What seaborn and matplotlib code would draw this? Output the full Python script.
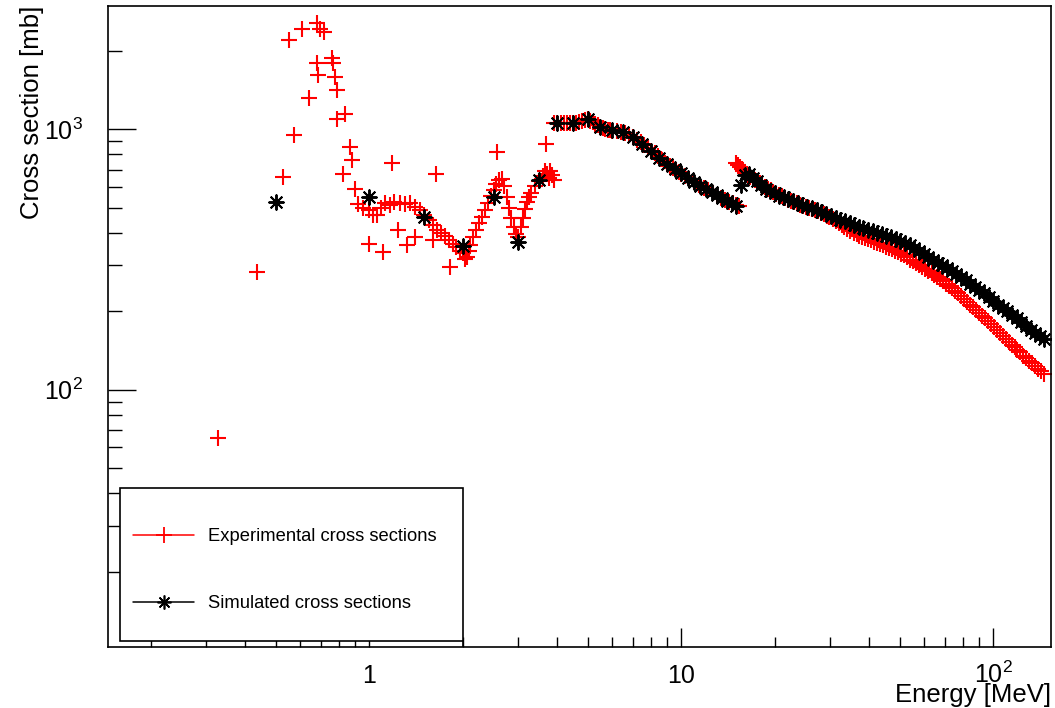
import numpy as np
import pandas as pd
import matplotlib
matplotlib.use('Agg')
import matplotlib.pyplot as plt
from matplotlib.lines import Line2D
from matplotlib.patches import Rectangle
from matplotlib.ticker import FixedLocator, FixedFormatter, LogLocator, NullFormatter
import seaborn as sns

# --- experimental cross sections (red crosses) ---
# scattered low energy points
exp_e_low = [0.327, 0.435, 0.530, 0.552, 0.574, 0.609, 0.641, 0.677, 0.677, 0.686,
             0.694, 0.715, 0.760, 0.762, 0.775, 0.785, 0.789, 0.824, 0.835, 0.866,
             0.877, 0.898, 0.921, 0.95, 1.0, 1.0, 1.03, 1.06, 1.09, 1.107,
             1.12, 1.16, 1.183, 1.2, 1.231, 1.25, 1.3, 1.316, 1.35, 1.399,
             1.4, 1.45, 1.6, 1.634, 1.81, 2.05, 2.56, 3.68]
exp_xs_low = [65, 282, 655, 2200, 949, 2416, 1324, 2550, 1790, 1613,
              2420, 2357, 1870, 1800, 1589, 1413, 1099, 676, 1149, 855,
              765, 592, 518, 500, 490, 363, 470, 470, 500, 337,
              520, 510, 745, 525, 409, 520, 515, 358, 520, 386,
              505, 490, 374, 676, 295, 323, 818, 881]

# resonance trace 1.5 - 3.9 MeV
exp_e_res = [1.5, 1.55, 1.6, 1.65, 1.7, 1.75, 1.8, 1.85, 1.9, 1.95,
             2.0, 2.02, 2.08, 2.1, 2.15, 2.2, 2.25, 2.3, 2.35, 2.4,
             2.45, 2.5, 2.55, 2.6, 2.65, 2.7, 2.75, 2.8, 2.85, 2.9,
             2.95, 3.0, 3.05, 3.1, 3.15, 3.2, 3.25, 3.3, 3.4, 3.5,
             3.6, 3.65, 3.7, 3.75, 3.8, 3.85, 3.9]
exp_xs_res = [470, 450, 430, 412, 398, 388, 375, 362, 352, 342,
              335, 318, 340, 360, 385, 410, 435, 460, 490, 520,
              552, 585, 615, 640, 645, 605, 550, 500, 455, 420,
              395, 385, 420, 455, 495, 525, 550, 570, 605, 635,
              660, 690, 675, 650, 690, 665, 640]

# first dense band 3.9 - 15.3 MeV
exp_e_band1 = [3.9, 4.0, 4.1, 4.2, 4.3, 4.4, 4.5, 4.6, 4.7, 4.8,
               4.9, 5.0, 5.1, 5.2, 5.3, 5.4, 5.5, 5.6, 5.7, 5.8,
               5.9, 6.0, 6.2, 6.4, 6.6, 6.8, 7.0, 7.2, 7.4, 7.6,
               7.8, 8.0, 8.2, 8.4, 8.6, 8.8, 9.0, 9.2, 9.4, 9.6,
               9.8, 10.0, 10.3, 10.6, 11.0, 11.4, 11.8, 12.2, 12.6, 13.0,
               13.4, 13.8, 14.2, 14.6, 15.0, 15.3]
exp_xs_band1 = [1057, 1057, 1057, 1057, 1057, 1057, 1057, 1060, 1068, 1078,
                1088, 1095, 1080, 1065, 1050, 1035, 1020, 1010, 1002, 996,
                992, 988, 982, 975, 965, 950, 932, 912, 890, 868,
                848, 828, 810, 792, 772, 755, 738, 724, 712, 700,
                688, 676, 660, 645, 627, 610, 596, 584, 570, 557,
                546, 536, 527, 519, 511, 506]

# second dense band 15 - 145 MeV
exp_e_band2 = [15.0, 15.2, 15.4, 15.6, 15.8, 16.0, 16.3, 16.6, 16.9, 17.2,
               17.5, 17.8, 18.1, 18.5, 18.9, 19.3, 19.7, 20.1, 20.5, 21.0,
               21.5, 22.0, 22.5, 23.0, 23.5, 24.0, 24.5, 25.0, 25.6, 26.2,
               26.8, 27.4, 28.0, 28.6, 29.2, 29.8, 30.5, 31.2, 31.9, 32.6,
               33.3, 34.0, 34.8, 35.6, 36.4, 37.2, 38.0, 38.8, 39.7, 40.6,
               41.5, 42.4, 43.4, 44.4, 45.4, 46.4, 47.4, 48.5, 49.6, 50.7,
               51.8, 53.0, 54.2, 55.4, 56.6, 57.9, 59.2, 60.5, 61.9, 63.3,
               64.7, 66.1, 67.6, 69.1, 70.6, 72.2, 73.8, 75.4, 77.1, 78.8,
               80.5, 82.3, 84.1, 86.0, 87.9, 89.8, 91.8, 93.8, 95.9, 98.0,
               100.2, 102.4, 104.7, 107.0, 109.4, 111.8, 114.3, 116.8, 119.4, 122.0,
               124.7, 127.5, 130.3, 133.2, 136.1, 139.1, 142.2, 145.3]
exp_xs_band2 = [740, 728, 716, 704, 692, 681, 670, 658, 648, 638,
                628, 619, 610, 600, 590, 582, 574, 566, 560, 552,
                545, 537, 531, 525, 520, 513, 508, 504, 499, 494,
                489, 484, 478, 472, 466, 461, 454, 446, 438, 429,
                421, 413, 406, 400, 395, 390, 386, 382, 378, 374,
                370, 366, 362, 358, 354, 350, 346, 342, 338, 333,
                328, 322, 316, 311, 306, 301, 296, 291, 286, 281,
                276, 271, 266, 261, 255, 250, 245, 239, 234, 228,
                223, 218, 212, 207, 202, 197, 192, 188, 183, 178,
                174, 170, 165, 161, 157, 153, 149, 146, 142, 139,
                135, 132, 129, 126, 123, 120, 118, 115]

# --- simulated cross sections (black stars) ---
sim_e_low = [0.5, 1.0, 1.5, 2.0, 2.5, 3.0, 3.5, 4.0, 4.5, 5.0,
             5.5, 6.0, 6.5, 7.0, 7.5, 8.0, 8.5, 9.0, 9.5, 10.0,
             10.5, 11.0, 11.5, 12.0, 12.5, 13.0, 13.5, 14.0, 14.5, 15.0]
sim_xs_low = [525, 549, 460, 355, 549, 369, 637, 1057, 1057, 1099,
              1020, 991, 977, 935, 875, 825, 775, 735, 705, 678,
              650, 627, 605, 590, 575, 558, 545, 532, 522, 508]

sim_e_high = [15.5, 16.0, 16.5, 17.0, 17.5, 18.0, 18.6, 19.2, 19.9, 20.6,
              21.3, 22.0, 22.8, 23.6, 24.4, 25.3, 26.2, 27.1, 28.1, 29.1,
              30.1, 31.2, 32.3, 33.4, 34.6, 35.8, 37.0, 38.3, 39.6, 41.0,
              42.4, 43.9, 45.4, 47.0, 48.6, 50.3, 52.1, 53.9, 55.8, 57.8,
              59.8, 61.9, 64.0, 66.2, 68.5, 70.9, 73.4, 76.0, 78.6, 81.4,
              84.2, 87.1, 90.2, 93.3, 96.6, 100.0, 103.5, 107.1, 110.8, 114.7,
              118.7, 122.9, 127.2, 131.6, 136.2, 141.0, 145.0]
sim_xs_high = [609, 668, 672, 652, 630, 610, 592, 580, 567, 556,
               547, 538, 529, 521, 513, 505, 497, 490, 481, 473,
               465, 458, 450, 443, 436, 429, 423, 417, 411, 405,
               400, 395, 390, 384, 378, 372, 366, 359, 350, 341,
               332, 323, 315, 307, 300, 292, 285, 277, 270, 263,
               255, 248, 241, 234, 227, 219, 212, 206, 200, 194,
               188, 182, 176, 170, 165, 160, 156]

x_ticks = [1, 10, 100]
x_tick_labels = ['1', '10', '$10^{2}$']
y_ticks = [100, 1000]
y_tick_labels = ['$10^{2}$', '$10^{3}$']
legend_labels = ['Experimental cross sections', 'Simulated cross sections']

exp_df = pd.DataFrame({'energy': exp_e_low + exp_e_res + exp_e_band1 + exp_e_band2,
                       'xs': exp_xs_low + exp_xs_res + exp_xs_band1 + exp_xs_band2})
sim_df = pd.DataFrame({'energy': sim_e_low + sim_e_high,
                       'xs': sim_xs_low + sim_xs_high})

sns.set_style('white')
plt.rcParams['font.family'] = ['Liberation Sans', 'DejaVu Sans']
plt.rcParams['mathtext.fontset'] = 'custom'
plt.rcParams['mathtext.rm'] = 'Liberation Sans'
plt.rcParams['mathtext.it'] = 'Liberation Sans:italic'
plt.rcParams['mathtext.bf'] = 'Liberation Sans:bold'
plt.rcParams['text.color'] = 'black'
plt.rcParams['axes.labelcolor'] = 'black'

W, H = 1055, 708
fig = plt.figure(figsize=(W / 100, H / 100), dpi=100)
ax = fig.add_axes([108 / W, 61 / H, 943 / W, 641 / H])

star = (8, 2, 0)
sns.scatterplot(data=exp_df, x='energy', y='xs', marker='+', color='red',
                s=120, linewidth=1.5, ax=ax, zorder=2, legend=False)
sns.scatterplot(data=sim_df, x='energy', y='xs', marker=star, color='black',
                s=110, linewidth=1.4, ax=ax, zorder=3, legend=False)

ax.set_xscale('log')
ax.set_yscale('log')
ax.set_xlim(0.1452, 152.9)
ax.set_ylim(10.27, 2974)

ax.xaxis.set_major_locator(FixedLocator(x_ticks))
ax.xaxis.set_major_formatter(FixedFormatter(x_tick_labels))
ax.yaxis.set_major_locator(FixedLocator(y_ticks))
ax.yaxis.set_major_formatter(FixedFormatter(y_tick_labels))
ax.xaxis.set_minor_locator(LogLocator(base=10, subs=np.arange(2, 10), numticks=20))
ax.yaxis.set_minor_locator(LogLocator(base=10, subs=np.arange(2, 10), numticks=20))
ax.xaxis.set_minor_formatter(NullFormatter())
ax.yaxis.set_minor_formatter(NullFormatter())

ax.tick_params(axis='both', which='both', direction='in', top=False, right=False,
               bottom=True, left=True, width=1.0, color='black', labelcolor='black')
ax.tick_params(axis='y', which='major', length=20, pad=18, labelsize=18)
ax.tick_params(axis='y', which='minor', length=10)
ax.tick_params(axis='x', which='major', length=13.7, pad=26, labelsize=18)
ax.tick_params(axis='x', which='minor', length=7)
plt.setp(ax.get_xticklabels(), va='baseline')

for sp in ax.spines.values():
    sp.set_visible(True)
    sp.set_color('black')
    sp.set_linewidth(1.2)

ax.set_xlabel('Energy [MeV]', fontsize=18.5, ha='right', color='black')
ax.xaxis.set_label_coords(1.0, -0.056)
ax.set_ylabel('Cross section [mb]', fontsize=18.5, ha='right', color='black')
ax.yaxis.set_label_coords(-0.068, 1.0)

# legend box (ROOT style)
bx0, by0, bw, bh = 0.0127, 0.0094, 0.3638, 0.2386
ax.add_patch(Rectangle((bx0, by0), bw, bh, transform=ax.transAxes, facecolor='white',
                       edgecolor='black', linewidth=1.2, zorder=4))
ax.add_line(Line2D([bx0 + bw, bx0 + bw], [0, by0], transform=ax.transAxes,
                   color='black', linewidth=1.2, zorder=4))
handles = [Line2D([0], [0], color='red', lw=1.1, marker='+', markersize=11, mew=1.3),
           Line2D([0], [0], color='black', lw=1.1, marker=star, markersize=10, mew=1.2)]
leg = ax.legend(handles, legend_labels, loc='center left', bbox_to_anchor=(0.0265, 0.120),
                frameon=False, fontsize=13.2, handlelength=3.33, handletextpad=0.78,
                labelspacing=2.72, borderpad=0, borderaxespad=0)
leg.set_zorder(5)
for t in leg.get_texts():
    t.set_color('black')

fig.savefig('out.png', dpi=100)
